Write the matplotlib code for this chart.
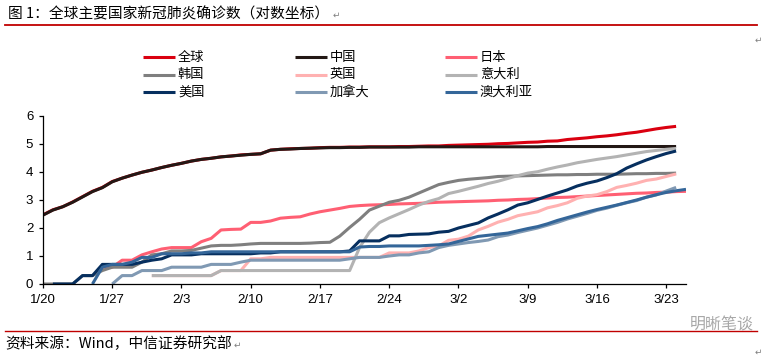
import numpy as np
import matplotlib
matplotlib.use("Agg")
import matplotlib.pyplot as plt
from matplotlib.lines import Line2D

# ---------------- data (log10 of cumulative confirmed cases) ----------------
# day index 0 = 1/20 ... 64 = 3/24, 65 = 3/25
N_DAYS = 66
tick_days = [0, 7, 14, 21, 28, 35, 42, 49, 56, 63]
tick_labels = ['1/20', '1/27', '2/3', '2/10', '2/17', '2/24', '3/2', '3/9', '3/16', '3/23']
y_ticks = [0, 1, 2, 3, 4, 5, 6]

series_names = ['全球', '中国', '日本', '韩国', '英国', '意大利', '美国', '加拿大', '澳大利亚']
series_colors = ['#DA0010', '#231815', '#FF5F73', '#7F7F7F', '#FFB1B1',
                 '#B3B3B3', '#062F5F', '#8099B3', '#346699']

global_start = 0
global_vals = [2.47, 2.65, 2.76, 2.93, 3.12, 3.31, 3.45, 3.66, 3.78, 3.89, 3.99, 4.07,
               4.16, 4.24, 4.31, 4.39, 4.45, 4.49, 4.54, 4.57, 4.61, 4.63, 4.65, 4.78, 4.81,
               4.83, 4.84, 4.85, 4.87, 4.88, 4.88, 4.89, 4.89, 4.90, 4.90, 4.90, 4.91, 4.91,
               4.92, 4.93, 4.93,
               4.95, 4.96, 4.97, 4.98, 4.99, 5.01, 5.02, 5.04, 5.06, 5.07, 5.10, 5.11, 5.16,
               5.19, 5.22, 5.26, 5.29, 5.33, 5.38, 5.42, 5.48, 5.54, 5.59, 5.63]

china_start = 0
china_vals = [2.46, 2.64, 2.76, 2.92, 3.11, 3.30, 3.44, 3.65, 3.78, 3.89, 3.99, 4.07,
              4.16, 4.24, 4.31, 4.39, 4.45, 4.49, 4.54, 4.57, 4.60, 4.63, 4.65, 4.78, 4.81,
              4.82, 4.84, 4.85, 4.86, 4.87, 4.87, 4.88, 4.88, 4.89, 4.89, 4.89, 4.89, 4.89,
              4.90, 4.90, 4.90,
              4.90, 4.90, 4.90, 4.90, 4.90, 4.90, 4.90, 4.90, 4.90, 4.90, 4.91, 4.91, 4.91,
              4.91, 4.91, 4.91, 4.91, 4.91, 4.91, 4.91, 4.91, 4.91, 4.91, 4.91]

japan_start = 6
japan_vals = [0.60, 0.60, 0.85, 0.85, 1.04, 1.15,
              1.25, 1.30, 1.30, 1.30, 1.51, 1.63, 1.93, 1.95, 1.96, 2.20, 2.20, 2.25, 2.35,
              2.38, 2.40, 2.50, 2.58, 2.64, 2.70, 2.77, 2.80, 2.82, 2.83, 2.84, 2.86, 2.87,
              2.88, 2.90, 2.92,
              2.93, 2.94, 2.95, 2.96, 2.97, 2.99, 3.00, 3.02, 3.03, 3.05, 3.07, 3.09, 3.10,
              3.12, 3.14, 3.16, 3.18, 3.20, 3.22, 3.24, 3.25, 3.27, 3.28, 3.30, 3.31]

korea_start = 0
korea_vals = [0.00, 0.00, 0.00, 0.00, 0.30, 0.30, 0.48, 0.60, 0.60, 0.60, 0.78, 1.04,
              1.08, 1.18, 1.18, 1.20, 1.28, 1.36, 1.38, 1.38, 1.40, 1.43, 1.45, 1.45, 1.45,
              1.45, 1.45, 1.46, 1.48, 1.49, 1.71, 2.02, 2.31, 2.64, 2.78, 2.92, 2.99, 3.10,
              3.25, 3.40, 3.55,
              3.63, 3.70, 3.74, 3.77, 3.80, 3.84, 3.85, 3.86, 3.87, 3.88, 3.89, 3.90, 3.90,
              3.91, 3.91, 3.92, 3.92, 3.92, 3.93, 3.94, 3.94, 3.95, 3.95, 3.96]

uk_start = 11
uk_vals = [0.30,
           0.30, 0.30, 0.30, 0.30, 0.30, 0.30, 0.48, 0.48, 0.48, 0.90, 0.90, 0.95, 0.95,
           0.95, 0.95, 0.95, 0.95, 0.95, 0.95, 0.95, 0.95, 0.95, 0.95, 1.11, 1.11, 1.11,
           1.18, 1.30, 1.36,
           1.56, 1.60, 1.71, 1.93, 2.06, 2.21, 2.31, 2.44, 2.51, 2.58, 2.72, 2.80, 2.90,
           3.06, 3.14, 3.19, 3.30, 3.45, 3.52, 3.60, 3.70, 3.75, 3.84, 3.93]

italy_start = 11
italy_vals = [0.30,
              0.30, 0.30, 0.30, 0.30, 0.30, 0.30, 0.48, 0.48, 0.48, 0.48, 0.48, 0.48, 0.48,
              0.48, 0.48, 0.48, 0.48, 0.48, 0.48, 0.48, 1.30, 1.85, 2.19, 2.36, 2.51, 2.66,
              2.82, 2.95, 3.05,
              3.23, 3.31, 3.40, 3.49, 3.59, 3.67, 3.77, 3.87, 3.96, 4.01, 4.10, 4.18, 4.25,
              4.33, 4.39, 4.45, 4.50, 4.55, 4.61, 4.67, 4.73, 4.77, 4.81, 4.84]

usa_start = 1
usa_vals = [0.00, 0.00, 0.00, 0.30, 0.30, 0.70, 0.70, 0.70, 0.70, 0.78, 0.85,
            0.90, 1.04, 1.04, 1.04, 1.08, 1.08, 1.08, 1.08, 1.08, 1.08, 1.11, 1.11, 1.15,
            1.15, 1.15, 1.15, 1.15, 1.15, 1.15, 1.18, 1.54, 1.54, 1.54, 1.72, 1.72, 1.77,
            1.78, 1.79, 1.85,
            1.88, 2.00, 2.09, 2.18, 2.36, 2.50, 2.65, 2.82, 2.90, 3.02, 3.14, 3.25, 3.36,
            3.50, 3.60, 3.68, 3.80, 3.94, 4.14, 4.29, 4.43, 4.55, 4.66, 4.75]

canada_start = 7
canada_vals = [0.00, 0.30, 0.30, 0.48, 0.48,
               0.48, 0.60, 0.60, 0.60, 0.60, 0.70, 0.70, 0.70, 0.78, 0.85, 0.85, 0.85,
               0.85, 0.85, 0.85, 0.85, 0.85, 0.85, 0.85, 0.90, 0.95, 0.95, 0.95, 1.00,
               1.04, 1.04, 1.11, 1.15, 1.30,
               1.38, 1.43, 1.48, 1.52, 1.57, 1.69, 1.75, 1.84, 1.92, 2.00, 2.10, 2.20,
               2.32, 2.42, 2.52, 2.63, 2.71, 2.81, 2.90, 2.98, 3.10, 3.18, 3.32, 3.45]

australia_start = 5
australia_vals = [0.00, 0.60, 0.70, 0.70, 0.78, 0.95, 0.95,
                  1.08, 1.08, 1.08, 1.11, 1.11, 1.15, 1.15, 1.15, 1.15, 1.15, 1.15, 1.15,
                  1.15, 1.15, 1.15, 1.15, 1.15, 1.15, 1.15, 1.15, 1.32, 1.34, 1.34, 1.36,
                  1.36, 1.36, 1.36, 1.38, 1.40,
                  1.43, 1.52, 1.61, 1.70, 1.74, 1.78, 1.82, 1.90, 1.98, 2.05, 2.15, 2.27,
                  2.37, 2.47, 2.57, 2.66, 2.74, 2.82, 2.91, 3.00, 3.10, 3.19, 3.27, 3.33,
                  3.38]


def build(start, vals):
    arr = np.full(N_DAYS, np.nan)
    vals = list(vals)[:N_DAYS - start]
    arr[start:start + len(vals)] = vals
    return arr


all_series = [build(global_start, global_vals), build(china_start, china_vals),
              build(japan_start, japan_vals), build(korea_start, korea_vals),
              build(uk_start, uk_vals), build(italy_start, italy_vals),
              build(usa_start, usa_vals), build(canada_start, canada_vals),
              build(australia_start, australia_vals)]
days = np.arange(N_DAYS)

# ---------------- figure ----------------
W, H = 770, 361
fig = plt.figure(figsize=(W / 100, H / 100), dpi=100)
fig.patch.set_facecolor('white')
CJK = ['Noto Sans CJK SC', 'DejaVu Sans']
LAT = ['Liberation Sans', 'DejaVu Sans']

def fx(px):
    return px / W

def fy(py):
    return 1 - py / H

ax = fig.add_axes([fx(43), fy(284), fx(686) - fx(43), fy(116) - fy(284)])
LW = 2.2
for vals, name, col in zip(all_series, series_names, series_colors):
    ax.plot(days, vals, color=col, lw=LW, label=name,
            solid_joinstyle='round', solid_capstyle='butt')

ax.set_xlim(0, 65)
ax.set_ylim(0, 6)
ax.set_xticks(tick_days)
ax.set_xticklabels(tick_labels, fontfamily=LAT, fontsize=9.5)
ax.set_yticks(y_ticks)
ax.set_yticklabels([str(v) for v in y_ticks], fontfamily=LAT, fontsize=9.5)
ax.tick_params(axis='both', direction='out', length=3, width=0.9, color='black',
               labelcolor='black')
ax.tick_params(axis='x', pad=4)
ax.tick_params(axis='y', pad=4)
for s in ['top', 'right']:
    ax.spines[s].set_visible(False)
for s in ['left', 'bottom']:
    ax.spines[s].set_linewidth(0.9)
    ax.spines[s].set_color('black')

# ---------------- legend (3 columns) ----------------
col_x = [143, 294.5, 445]
row_y = [57, 74.5, 92]
for i, (name, col) in enumerate(zip(series_names, series_colors)):
    r, c = divmod(i, 3)
    x0 = col_x[c]
    y = row_y[r]
    fig.add_artist(Line2D([fx(x0), fx(x0 + 32)], [fy(y), fy(y)], color=col, lw=LW,
                          solid_capstyle='butt'))
    fig.text(fx(x0 + 35), fy(y), name, fontsize=9.5, family=CJK, va='center',
             ha='left', color='black')

# ---------------- title / source / decorations ----------------
title = fig.text(fx(8), fy(14), '图 1：全球主要国家新冠肺炎确诊数（对数坐标）',
                 fontsize=10.6, family=CJK, va='center', ha='left', color='black')
fig.add_artist(Line2D([fx(5), fx(757)], [fy(24.5), fy(24.5)], color='#C00000', lw=1.3))

src = fig.text(fx(5), fy(344), '资料来源：Wind，中信证券研究部', fontsize=10.6,
               family=CJK, va='center', ha='left', color='black')
fig.add_artist(Line2D([fx(5), fx(757)], [fy(331), fy(331)], color='#C00000', lw=1.0))

fig.text(fx(690), fy(325), '明晰笔谈', fontsize=11.5, family=CJK, va='center',
         ha='left', color='#A8A8A8')

# paragraph marks
fig.canvas.draw()
r = fig.canvas.get_renderer()
tb = title.get_window_extent(r)
sb = src.get_window_extent(r)
fig.text(tb.x1 / W + fx(3), fy(15), '↵', fontsize=6.5, family=['DejaVu Sans'],
         va='center', ha='left', color='#808080')
fig.text(sb.x1 / W + fx(2), fy(345), '↵', fontsize=6.5, family=['DejaVu Sans'],
         va='center', ha='left', color='#808080')
fig.text(fx(755), fy(40), '↵', fontsize=6.5, family=['DejaVu Sans'],
         va='center', ha='left', color='#808080')
fig.text(fx(755), fy(352), '↵', fontsize=6.5, family=['DejaVu Sans'],
         va='center', ha='left', color='#808080')

fig.savefig('out.png', dpi=100, facecolor='white')
